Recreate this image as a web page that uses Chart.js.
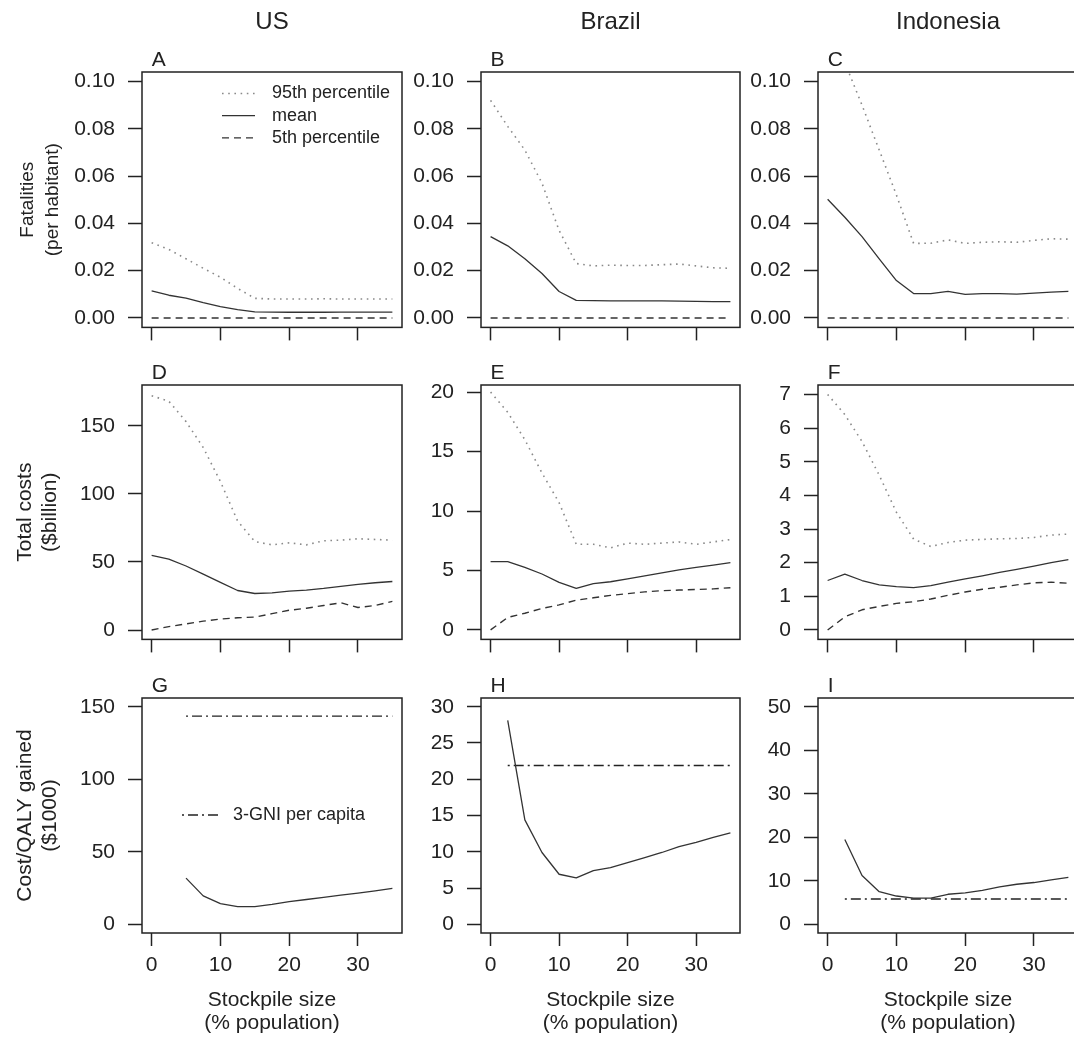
<!DOCTYPE html>
<html>
<head>
<meta charset="utf-8">
<script src="https://cdn.jsdelivr.net/npm/chart.js@4.4.1/dist/chart.umd.min.js"></script>
<style>
html, body { margin: 0; padding: 0; background: #ffffff; overflow: hidden; width: 1074px; height: 1042px; position: relative; }
canvas { position: absolute; }
</style>
</head>
<body>
<script>
// ---------------- DATA ----------------
const stockpile   = [0, 2.5, 5, 7.5, 10, 12.5, 15, 17.5, 20, 22.5, 25, 27.5, 30, 32.5, 35];
const stockpileCQUS = [5, 7.5, 10, 12.5, 15, 17.5, 20, 22.5, 25, 27.5, 30, 32.5, 35];
const stockpileCQ   = [2.5, 5, 7.5, 10, 12.5, 15, 17.5, 20, 22.5, 25, 27.5, 30, 32.5, 35];

const countries    = ['US', 'Brazil', 'Indonesia'];
const panelLetters = ['A', 'B', 'C', 'D', 'E', 'F', 'G', 'H', 'I'];
const rowTitles    = [['Fatalities', '(per habitant)'], ['Total costs', '($billion)'], ['Cost/QALY gained', '($1000)']];
const xTitle       = ['Stockpile size', '(% population)'];
const legendLabels = ['95th percentile', 'mean', '5th percentile'];
const gniLabel     = '3-GNI per capita';

// Fatalities (per habitant)
const usFatal95   = [0.0318, 0.0290, 0.0250, 0.0210, 0.0172, 0.0125, 0.0083, 0.0080, 0.0080, 0.0080, 0.0081, 0.0080, 0.0080, 0.0080, 0.0080];
const usFatalMean = [0.0114, 0.0096, 0.0084, 0.0065, 0.0048, 0.0035, 0.0026, 0.0025, 0.0024, 0.0024, 0.0024, 0.0025, 0.0025, 0.0025, 0.0025];
const usFatal5    = [0, 0, 0, 0, 0, 0, 0, 0, 0, 0, 0, 0, 0, 0, 0];
const brFatal95   = [0.0920, 0.0810, 0.0710, 0.0570, 0.0370, 0.0230, 0.0220, 0.0223, 0.0222, 0.0222, 0.0225, 0.0228, 0.0220, 0.0212, 0.0210];
const brFatalMean = [0.0344, 0.0305, 0.0250, 0.0188, 0.0112, 0.0074, 0.0073, 0.0072, 0.0072, 0.0072, 0.0072, 0.0071, 0.0070, 0.0069, 0.0069];
const brFatal5    = [0, 0, 0, 0, 0, 0, 0, 0, 0, 0, 0, 0, 0, 0, 0];
const idFatal95   = [0.1250, 0.1080, 0.0900, 0.0710, 0.0520, 0.0315, 0.0316, 0.0330, 0.0315, 0.0320, 0.0322, 0.0320, 0.0328, 0.0335, 0.0333];
const idFatalMean = [0.0502, 0.0426, 0.0344, 0.0250, 0.0158, 0.0103, 0.0103, 0.0112, 0.0100, 0.0103, 0.0103, 0.0101, 0.0105, 0.0109, 0.0112];
const idFatal5    = [0, 0, 0, 0, 0, 0, 0, 0, 0, 0, 0, 0, 0, 0, 0];

// Total costs ($billion)
const usCost95   = [172, 168, 153, 134, 109, 80, 65, 62.5, 64, 62.5, 65.5, 66, 67, 66.5, 66];
const usCostMean = [54.8, 52, 47, 41, 35, 29, 26.8, 27.3, 28.5, 29.3, 30.5, 32, 33.5, 34.7, 35.6];
const usCost5    = [0, 2.5, 4.5, 6.5, 8, 9, 9.5, 12, 14.5, 16, 18, 20, 16.5, 18, 21];
const brCost95   = [20.0, 18.3, 16.0, 13.2, 10.7, 7.2, 7.2, 6.9, 7.3, 7.2, 7.3, 7.4, 7.2, 7.4, 7.6];
const brCostMean = [5.75, 5.75, 5.25, 4.7, 4.0, 3.5, 3.9, 4.05, 4.3, 4.55, 4.8, 5.05, 5.25, 5.45, 5.65];
const brCost5    = [0, 1.05, 1.4, 1.8, 2.1, 2.5, 2.7, 2.9, 3.05, 3.2, 3.3, 3.35, 3.4, 3.45, 3.55];
const idCost95   = [7.0, 6.4, 5.6, 4.6, 3.5, 2.7, 2.48, 2.6, 2.67, 2.69, 2.71, 2.72, 2.75, 2.82, 2.85];
const idCostMean = [1.47, 1.66, 1.47, 1.34, 1.29, 1.26, 1.32, 1.42, 1.52, 1.61, 1.71, 1.80, 1.90, 2.00, 2.09];
const idCost5    = [0, 0.39, 0.6, 0.7, 0.79, 0.84, 0.92, 1.03, 1.13, 1.21, 1.27, 1.34, 1.40, 1.42, 1.39];

// Cost/QALY gained ($1000)
const usCostQaly = [31.8, 19.6, 14.3, 12.2, 12.2, 13.8, 15.7, 17.1, 18.5, 20.1, 21.5, 23.1, 24.7];
const brCostQaly = [28.1, 14.4, 9.9, 6.9, 6.4, 7.4, 7.8, 8.5, 9.2, 9.9, 10.7, 11.3, 12.0, 12.6];
const idCostQaly = [19.5, 11.2, 7.5, 6.5, 6.0, 6.0, 6.9, 7.2, 7.8, 8.6, 9.2, 9.6, 10.2, 10.8];
const usGni3 = 143.5;
const brGni3 = 21.9;
const idGni3 = 5.8;

// Tick values and labels
const xTicks      = [0, 10, 20, 30];
const xTickLabels = ['0', '10', '20', '30'];
const fatalYTicks  = [0, 0.02, 0.04, 0.06, 0.08, 0.10];
const fatalYLabels = ['0.00', '0.02', '0.04', '0.06', '0.08', '0.10'];
const usCostYTicks = [0, 50, 100, 150];
const brCostYTicks = [0, 5, 10, 15, 20];
const idCostYTicks = [0, 1, 2, 3, 4, 5, 6, 7];
const usCQYTicks   = [0, 50, 100, 150];
const brCQYTicks   = [0, 5, 10, 15, 20, 25, 30];
const idCQYTicks   = [0, 10, 20, 30, 40, 50];

// ---------------- STYLE / LAYOUT ----------------
const FONT = "'Liberation Sans', Arial, Helvetica, sans-serif";
Chart.defaults.font.family = FONT;
Chart.defaults.color = '#222';

const STYLE = {
  p95:  { borderColor: '#8a8a8a', borderWidth: 1.6, borderDash: [1.6, 4.6] },
  mean: { borderColor: '#333333', borderWidth: 1.3, borderDash: [] },
  p5:   { borderColor: '#333333', borderWidth: 1.4, borderDash: [7, 5] },
  gni:  { borderColor: '#222222', borderWidth: 1.4, borderDash: [2, 4, 10, 4] }
};

const colGeom = [
  { plotLeft: 142, plotW: 260, axisW: 142 },
  { plotLeft: 481, plotW: 259, axisW: 80 },
  { plotLeft: 818, plotW: 260, axisW: 80 }
];
const rowGeom = [
  { plotTop: 72,  plotH: 261, canvasTop: 0,   xAxisH: 20 },
  { plotTop: 385, plotH: 260, canvasTop: 355, xAxisH: 20 },
  { plotTop: 698, plotH: 235, canvasTop: 668, xAxisH: 109 }
];
const RIGHT_PAD = 8;

const pts = (xs, ys) => xs.map((x, i) => ({ x: x, y: ys[i] }));
const flatLine = (xs, v) => [{ x: xs[0], y: v }, { x: xs[xs.length - 1], y: v }];
const labelsOf = arr => arr.map(v => String(v));

const panels = [
  [
    { series: [['p95', pts(stockpile, usFatal95)], ['mean', pts(stockpile, usFatalMean)], ['p5', pts(stockpile, usFatal5)]],
      yMin: -0.004, yMax: 0.104, yTicks: fatalYTicks, yLabels: fatalYLabels },
    { series: [['p95', pts(stockpile, brFatal95)], ['mean', pts(stockpile, brFatalMean)], ['p5', pts(stockpile, brFatal5)]],
      yMin: -0.004, yMax: 0.104, yTicks: fatalYTicks, yLabels: fatalYLabels },
    { series: [['p95', pts(stockpile, idFatal95)], ['mean', pts(stockpile, idFatalMean)], ['p5', pts(stockpile, idFatal5)]],
      yMin: -0.004, yMax: 0.104, yTicks: fatalYTicks, yLabels: fatalYLabels }
  ],
  [
    { series: [['p95', pts(stockpile, usCost95)], ['mean', pts(stockpile, usCostMean)], ['p5', pts(stockpile, usCost5)]],
      yMin: -6.9, yMax: 179.9, yTicks: usCostYTicks, yLabels: labelsOf(usCostYTicks) },
    { series: [['p95', pts(stockpile, brCost95)], ['mean', pts(stockpile, brCostMean)], ['p5', pts(stockpile, brCost5)]],
      yMin: -0.8, yMax: 20.6, yTicks: brCostYTicks, yLabels: labelsOf(brCostYTicks) },
    { series: [['p95', pts(stockpile, idCost95)], ['mean', pts(stockpile, idCostMean)], ['p5', pts(stockpile, idCost5)]],
      yMin: -0.28, yMax: 7.28, yTicks: idCostYTicks, yLabels: labelsOf(idCostYTicks) }
  ],
  [
    { series: [['mean', pts(stockpileCQUS, usCostQaly)], ['gni', flatLine(stockpileCQUS, usGni3)]],
      yMin: -6, yMax: 156, yTicks: usCQYTicks, yLabels: labelsOf(usCQYTicks) },
    { series: [['mean', pts(stockpileCQ, brCostQaly)], ['gni', flatLine(stockpileCQ, brGni3)]],
      yMin: -1.2, yMax: 31.2, yTicks: brCQYTicks, yLabels: labelsOf(brCQYTicks) },
    { series: [['mean', pts(stockpileCQ, idCostQaly)], ['gni', flatLine(stockpileCQ, idGni3)]],
      yMin: -2, yMax: 52, yTicks: idCQYTicks, yLabels: labelsOf(idCQYTicks) }
  ]
];

const legendSpecs = {
  '0,0': { top: 21.5, spacing: 22.2, x0: 80, x1: 113, tx: 130,
           items: [{ label: legendLabels[0], style: STYLE.p95 }, { label: legendLabels[1], style: STYLE.mean }, { label: legendLabels[2], style: STYLE.p5 }] },
  '2,0': { top: 117, spacing: 0, x0: 40, x1: 76, tx: 91,
           items: [{ label: gniLabel, style: STYLE.gni }] }
};

function makeFramePlugin(letter, legend) {
  return {
    id: 'frame',
    afterDatasetsDraw(chart) {
      const { ctx, chartArea: a, scales } = chart;
      ctx.save();
      ctx.strokeStyle = '#222';
      ctx.lineWidth = 1.5;
      ctx.setLineDash([]);
      ctx.strokeRect(a.left, a.top, a.right - a.left, a.bottom - a.top);
      ctx.fillStyle = '#222';
      ctx.font = '21px ' + FONT;
      ctx.textAlign = 'left';
      ctx.textBaseline = 'middle';
      ctx.fillText(letter, scales.x.getPixelForValue(0), a.top - 12);
      if (legend) {
        ctx.font = '18px ' + FONT;
        legend.items.forEach((it, i) => {
          const y = a.top + legend.top + i * legend.spacing;
          ctx.save();
          ctx.strokeStyle = it.style.borderColor;
          ctx.lineWidth = it.style.borderWidth;
          ctx.setLineDash(it.style.borderDash);
          ctx.beginPath();
          ctx.moveTo(a.left + legend.x0, y);
          ctx.lineTo(a.left + legend.x1, y);
          ctx.stroke();
          ctx.restore();
          ctx.fillText(it.label, a.left + legend.tx, y);
        });
      }
      ctx.restore();
    }
  };
}

function makeChart(r, c) {
  const cg = colGeom[c], rg = rowGeom[r], p = panels[r][c];
  const canvas = document.createElement('canvas');
  const left = cg.plotLeft - cg.axisW;
  const width = cg.axisW + cg.plotW + RIGHT_PAD;
  const topPad = rg.plotTop - rg.canvasTop;
  const height = topPad + rg.plotH + rg.xAxisH;
  canvas.width = width; canvas.height = height;
  canvas.style.left = left + 'px';
  canvas.style.top = rg.canvasTop + 'px';
  canvas.style.width = width + 'px';
  canvas.style.height = height + 'px';
  document.body.appendChild(canvas);

  const datasets = p.series.map(([kind, data]) => Object.assign({
    data: data,
    pointRadius: 0,
    pointHoverRadius: 0,
    fill: false,
    tension: 0,
    borderCapStyle: 'butt',
    borderJoinStyle: 'round'
  }, STYLE[kind]));

  const isFirstRow = r === 0;
  const isLastRow = r === 2;
  const rowFont = r === 0 ? 19 : 21;
  const rowLH = r === 0 ? 24.5 / 19 : 24.6 / 21;

  new Chart(canvas, {
    type: 'line',
    data: { datasets: datasets },
    options: {
      responsive: false,
      animation: false,
      devicePixelRatio: 1,
      layout: { padding: { top: isFirstRow ? 0 : topPad, right: RIGHT_PAD, bottom: 0, left: 0 } },
      plugins: {
        legend: { display: false },
        tooltip: { enabled: false },
        title: {
          display: isFirstRow,
          text: countries[c],
          fullSize: false,
          align: 'center',
          color: '#222',
          font: { size: 24, weight: 'normal', lineHeight: 1.2 },
          padding: { top: 8, bottom: topPad - 8 - 28.8 }
        }
      },
      scales: {
        x: {
          type: 'linear',
          min: -1.4, max: 36.4,
          afterBuildTicks: s => { s.ticks = xTicks.map(v => ({ value: v })); },
          afterFit: s => { s.height = rg.xAxisH; },
          border: { display: false },
          grid: { display: true, drawOnChartArea: false, drawTicks: true, tickLength: 13, tickWidth: 1.5, tickColor: '#222', color: '#222' },
          ticks: {
            display: isLastRow,
            autoSkip: false, maxRotation: 0, minRotation: 0,
            padding: 7,
            color: '#222',
            font: { size: 21 },
            callback: (v, i) => xTickLabels[i]
          },
          title: {
            display: isLastRow,
            text: xTitle,
            color: '#222',
            font: { size: 21, lineHeight: 1.1 },
            padding: { top: 0, bottom: 7.5 }
          }
        },
        y: {
          type: 'linear',
          min: p.yMin, max: p.yMax,
          afterBuildTicks: s => { s.ticks = p.yTicks.map(v => ({ value: v })); },
          afterFit: s => { s.width = cg.axisW; },
          border: { display: false },
          grid: { display: true, drawOnChartArea: false, drawTicks: true, tickLength: 14, tickWidth: 1.5, tickColor: '#222', color: '#222' },
          ticks: {
            autoSkip: false,
            padding: 13,
            color: '#222',
            font: { size: 21 },
            callback: (v, i) => p.yLabels[i]
          },
          title: {
            display: c === 0,
            text: rowTitles[r],
            color: '#222',
            font: { size: rowFont, lineHeight: rowLH },
            padding: { top: r === 0 ? 16 : 13.2, bottom: 0 }
          }
        }
      }
    },
    plugins: [makeFramePlugin(panelLetters[r * 3 + c], legendSpecs[r + ',' + c])]
  });
}

for (let r = 0; r < 3; r++) {
  for (let c = 0; c < 3; c++) {
    makeChart(r, c);
  }
}
</script>
</body>
</html>
